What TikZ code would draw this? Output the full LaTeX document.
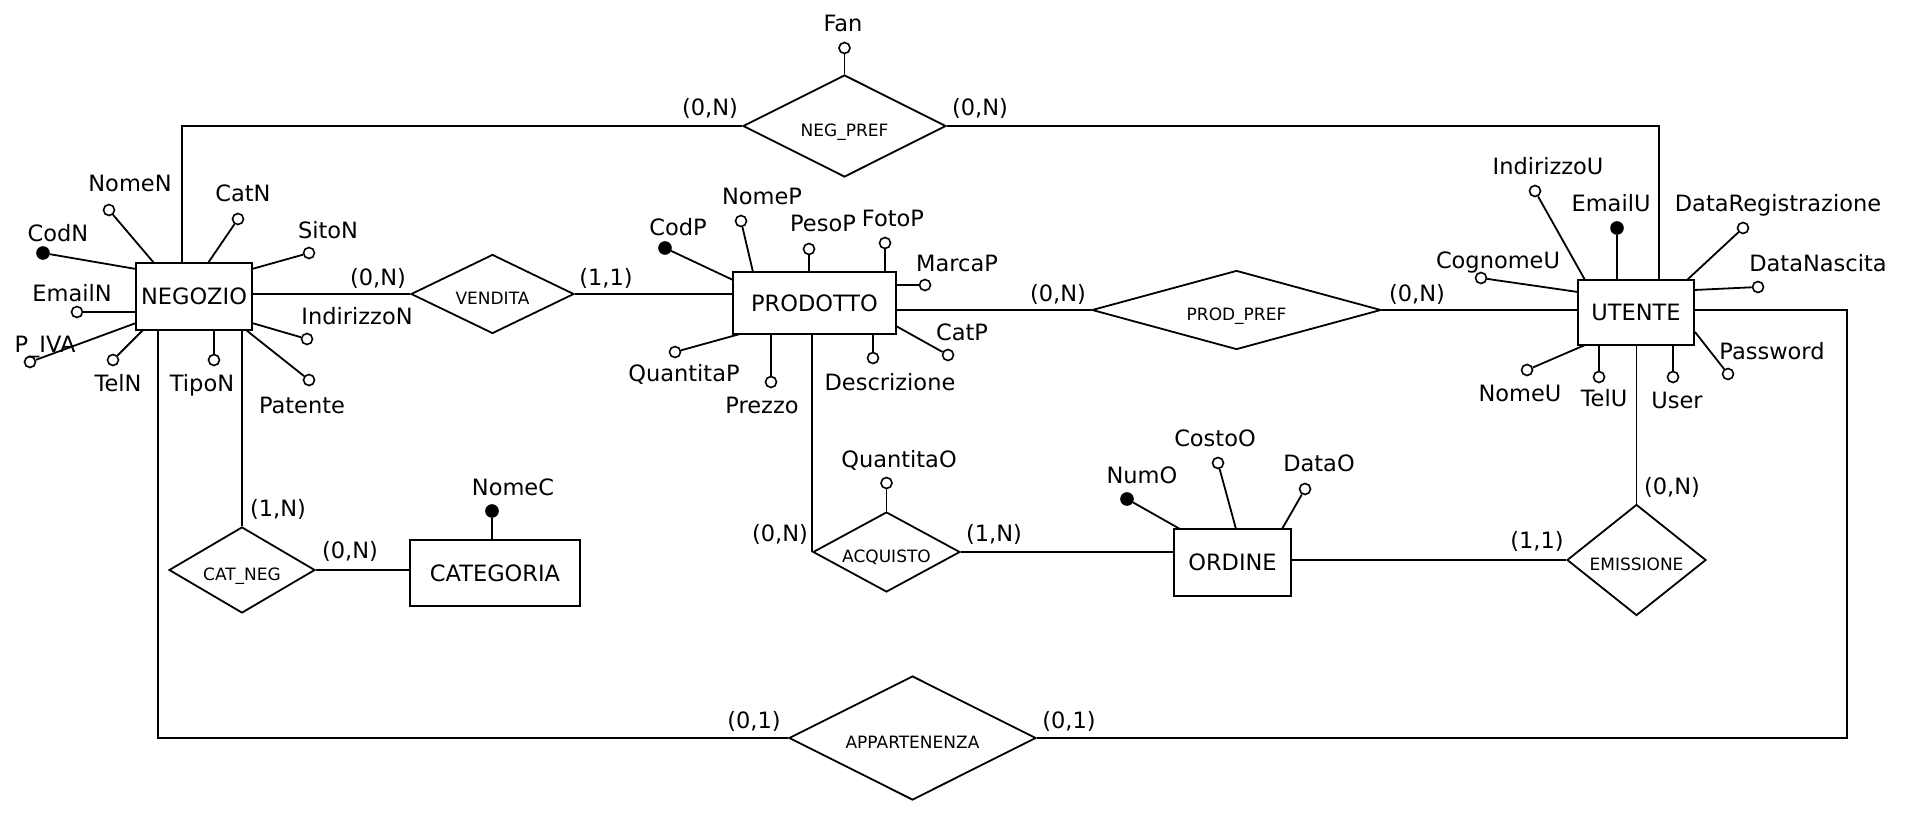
\documentclass[tikz,border=0pt]{standalone}
\usepackage{fontspec}
\setmainfont{DejaVu Sans}
\usetikzlibrary{shapes.geometric}
\begin{document}
\begin{tikzpicture}[x=1pt,y=-1pt,line width=1.8pt,
  entity/.style={draw, rectangle, inner sep=0pt, font=\fontsize{22.5}{27}\selectfont},
  rel/.style={draw, diamond, inner sep=0pt, font=\fontsize{17}{20}\selectfont, text height=20pt, text depth=0pt},
  att/.style={draw, circle, fill=white, inner sep=0pt, minimum size=11pt, line width=1.6pt},
  key/.style={att, fill=black, minimum size=12pt},
  lbl/.style={anchor=base, yshift=-8.2pt, inner sep=0pt, font=\fontsize{22.5}{27}\selectfont},
]
\useasboundingbox (0,0) rectangle (1906,816);

% ---------- entities ----------
\node[entity, minimum width=116pt, minimum height=67pt] (negozio)   at (194,296.5)   {NEGOZIO};
\node[entity, minimum width=163pt, minimum height=62pt] (prodotto)  at (814.5,303)   {PRODOTTO};
\node[entity, minimum width=116pt, minimum height=65pt] (utente)    at (1636,312.5)  {UTENTE};
\node[entity, minimum width=170pt, minimum height=66pt] (categoria) at (495,573)     {CATEGORIA};
\node[entity, minimum width=117pt, minimum height=67pt] (ordine)    at (1232.5,562.5){ORDINE};

% ---------- relationships ----------
\node[rel, minimum width=203pt, minimum height=102pt, aspect=2]    (negpref)   at (844.5,126)  {NEG\_PREF};
\node[rel, minimum width=163pt, minimum height=79pt,  aspect=2.06] (vendita)   at (492.5,294)  {VENDITA};
\node[rel, minimum width=289pt, minimum height=79pt,  aspect=3.66] (prodpref)  at (1236.5,310) {PROD\_PREF};
\node[rel, minimum width=146pt, minimum height=86pt,  aspect=1.7]  (catneg)    at (242,570)    {CAT\_NEG};
\node[rel, minimum width=147pt, minimum height=80pt,  aspect=1.84] (acquisto)  at (886.5,552)  {ACQUISTO};
\node[rel, minimum width=139pt, minimum height=111pt, aspect=1.25] (emissione) at (1636.5,560) {EMISSIONE};
\node[rel, minimum width=247pt, minimum height=124pt, aspect=2]    (appart)    at (912.5,738)  {APPARTENENZA};

% ---------- relationship links ----------
\draw (negpref.west) -| ([xshift=-12pt]negozio.north);
\draw (negpref.east) -| ([xshift=23pt]utente.north);
\draw (vendita.west) -- (vendita.west -| negozio.east);
\draw (vendita.east) -- (vendita.east -| prodotto.west);
\draw (prodpref.west) -- (prodpref.west -| prodotto.east);
\draw (prodpref.east) -- (prodpref.east -| utente.west);
\draw (catneg.north) -- (catneg.north |- negozio.south);
\draw (catneg.east) -- (catneg.east -| categoria.west);
\draw (acquisto.west) -- (acquisto.west |- prodotto.south);
\draw (acquisto.east) -- (acquisto.east -| ordine.west);
\draw (emissione.west) -- (emissione.west -| ordine.east);
\draw (emissione.north) -- (emissione.north |- utente.south);
\draw ([xshift=-36pt]negozio.south) |- (appart.west);
\draw ([yshift=2.5pt]utente.east) -- ++(152,0) |- (appart.east);

% ---------- cardinalities ----------
\node[lbl] (c1)  at (710,107)  {(0,N)};
\node[lbl] (c2)  at (980,107)  {(0,N)};
\node[lbl] (c3)  at (378,277)  {(0,N)};
\node[lbl] (c4)  at (606,277)  {(1,1)};
\node[lbl] (c5)  at (1058,293) {(0,N)};
\node[lbl] (c6)  at (1417,293) {(0,N)};
\node[lbl] (c7)  at (278,508)  {(1,N)};
\node[lbl] (c8)  at (350,550)  {(0,N)};
\node[lbl] (c9)  at (780,533)  {(0,N)};
\node[lbl] (c10) at (994,533)  {(1,N)};
\node[lbl] (c11) at (1537,540) {(1,1)};
\node[lbl] (c12) at (1672,486) {(0,N)};
\node[lbl] (c13) at (754,720)  {(0,1)};
\node[lbl] (c14) at (1069,720) {(0,1)};

% ---------- NEGOZIO attributes ----------
\node[key] (codn) at (43,253) {};   \draw (codn) -- ([shift={(-58,-27.5)}]negozio.center);
\node[lbl] at (58,233) {CodN};
\node[att] (nomen) at (109,210) {}; \draw (nomen) -- ([shift={(-40,-33.5)}]negozio.center);
\node[lbl] at (130,183) {NomeN};
\node[att] (catn) at (238,219) {};  \draw (catn) -- ([shift={(14,-33.5)}]negozio.center);
\node[lbl] at (243,193) {CatN};
\node[att] (siton) at (309,253) {}; \draw (siton) -- ([shift={(58,-27.5)}]negozio.center);
\node[lbl] at (328,230) {SitoN};
\node[att] (emailn) at (77,312) {}; \draw (emailn) -- ([shift={(-58,15.5)}]negozio.center);
\node[lbl] at (72,293) {EmailN};
\node[att] (piva) at (30,362) {};   \draw (piva) -- ([shift={(-58,26.5)}]negozio.center);
\node[lbl] at (45,344) {P\_IVA};
\node[att] (teln) at (113,360) {};  \draw (teln) -- ([shift={(-51,33.5)}]negozio.center);
\node[lbl] at (118,383) {TelN};
\node[att] (tipon) at (214,360) {}; \draw (tipon) -- ([shift={(20,33.5)}]negozio.center);
\node[lbl] at (202,383) {TipoN};
\node[att] (indn) at (307,339) {};  \draw (indn) -- ([shift={(58,26.5)}]negozio.center);
\node[lbl] at (357,316) {IndirizzoN};
\node[att] (pat) at (309,380) {};   \draw (pat) -- ([shift={(52,33.5)}]negozio.center);
\node[lbl] at (302,405) {Patente};

% ---------- PRODOTTO attributes ----------
\node[key] (codp) at (665,248) {};  \draw (codp) -- ([shift={(-81.5,-23)}]prodotto.center);
\node[lbl] at (678,227) {CodP};
\node[att] (nomep) at (741,221) {}; \draw (nomep) -- ([shift={(-61.5,-31)}]prodotto.center);
\node[lbl] at (762,196) {NomeP};
\node[att] (pesop) at (809,249) {}; \draw (pesop) -- ([shift={(-5.5,-31)}]prodotto.center);
\node[lbl] at (823,223) {PesoP};
\node[att] (fotop) at (885,243) {}; \draw (fotop) -- ([shift={(70.5,-31)}]prodotto.center);
\node[lbl] at (893,218) {FotoP};
\node[att] (marcap) at (925,285) {};\draw (marcap) -- ([shift={(81.5,-18)}]prodotto.center);
\node[lbl] at (957,263) {MarcaP};
\node[att] (catp) at (948,355) {};  \draw (catp) -- ([shift={(81.5,23)}]prodotto.center);
\node[lbl] at (962,332) {CatP};
\node[att] (descr) at (873,358) {}; \draw (descr) -- ([shift={(58.5,31)}]prodotto.center);
\node[lbl] at (890,382) {Descrizione};
\node[att] (prezzo) at (771,382) {};\draw (prezzo) -- ([shift={(-43.5,31)}]prodotto.center);
\node[lbl] at (762,405) {Prezzo};
\node[att] (qtap) at (675,352) {};  \draw (qtap) -- ([shift={(-74.5,31)}]prodotto.center);
\node[lbl] at (684,373) {QuantitaP};

% ---------- UTENTE attributes ----------
\node[att] (indu) at (1535,191) {};  \draw (indu) -- ([shift={(-51,-32.5)}]utente.center);
\node[lbl] at (1548,166) {IndirizzoU};
\node[key] (emailu) at (1617,228) {};\draw (emailu) -- ([shift={(-19,-32.5)}]utente.center);
\node[lbl] at (1611,203) {EmailU};
\node[att] (datareg) at (1743,228) {};\draw (datareg) -- ([shift={(51,-32.5)}]utente.center);
\node[lbl] at (1778,203) {DataRegistrazione};
\node[att] (cognu) at (1481,278) {}; \draw (cognu) -- ([shift={(-58,-20.5)}]utente.center);
\node[lbl] at (1498,260) {CognomeU};
\node[att] (datan) at (1758,287) {}; \draw (datan) -- ([shift={(58,-22.5)}]utente.center);
\node[lbl] at (1818,263) {DataNascita};
\node[att] (pwd) at (1728,374) {};   \draw (pwd) -- ([shift={(59,19.5)}]utente.center);
\node[lbl] at (1772,351) {Password};
\node[att] (nomeu) at (1527,370) {}; \draw (nomeu) -- ([shift={(-51,32.5)}]utente.center);
\node[lbl] at (1520,393) {NomeU};
\node[att] (telu) at (1599,377) {};  \draw (telu) -- ([shift={(-37,32.5)}]utente.center);
\node[lbl] at (1604,398) {TelU};
\node[att] (user) at (1673,377) {};  \draw (user) -- ([shift={(37,32.5)}]utente.center);
\node[lbl] at (1677,400) {User};

% ---------- CATEGORIA and ORDINE attributes ----------
\node[key] (nomec) at (492,511) {};  \draw (nomec) -- ([shift={(-3,-33)}]categoria.center);
\node[lbl] at (513,487) {NomeC};
\node[key] (numo) at (1127,499) {};  \draw (numo) -- ([shift={(-52.5,-33.5)}]ordine.center);
\node[lbl] at (1142,475) {NumO};
\node[att] (costoo) at (1218,463) {};\draw (costoo) -- ([shift={(3.5,-33.5)}]ordine.center);
\node[lbl] at (1215,438) {CostoO};
\node[att] (datao) at (1305,489) {}; \draw (datao) -- ([shift={(49.5,-33.5)}]ordine.center);
\node[lbl] at (1319,463) {DataO};

% ---------- relationship attributes ----------
\node[att] (fan) at (844.5,48) {};   \draw (fan) -- (negpref.north);
\node[lbl] at (843,23) {Fan};
\node[att] (qtao) at (886.5,483) {}; \draw (qtao) -- (acquisto.north);
\node[lbl] at (899,459) {QuantitaO};
\end{tikzpicture}
\end{document}
